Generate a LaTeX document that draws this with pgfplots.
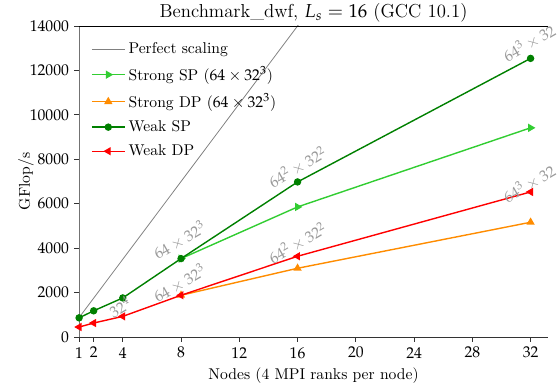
\documentclass[border=0pt]{standalone}
\usepackage{mathpazo}
\usepackage{pgfplots}
\pgfplotsset{compat=1.18}
\definecolor{cLime}{HTML}{32CD32}
\definecolor{cOrange}{HTML}{FF8C00}
\definecolor{cGreen}{HTML}{008000}
\definecolor{cRed}{HTML}{FF0000}
\definecolor{cAnn}{HTML}{999999}
\begin{document}
\begin{tikzpicture}
\begin{axis}[
  scale only axis,
  width=300pt, height=199pt,
  xmin=1, xmax=33.2, ymin=0, ymax=14000,
  xtick={1,2,4,8,12,16,20,24,28,32},
  ytick={0,2000,4000,6000,8000,10000,12000,14000},
  scaled y ticks=false,
  yticklabel style={/pgf/number format/1000 sep={}},
  axis x line=bottom, axis y line=left,
  axis line style={-},
  x axis line style={black!80},
  y axis line style={black!55},
  tick align=outside,
  major tick length=3pt,
  tick style={black!80, line width=0.5pt},
  xlabel={Nodes (4 MPI ranks per node)},
  xlabel style={at={(0.5,0)}, anchor=base, yshift=-27pt},
  title={Benchmark\_dwf, $L_s = 16$ (GCC 10.1)},
  title style={at={(0.5,1)}, anchor=base, yshift=-0.5pt, font=\large},
  clip mode=individual,
  legend style={draw=none, fill=none, at={(0.015,0.968)}, anchor=north west,
    row sep=2.9pt, font=\normalsize},
  legend cell align=left,
  legend image code/.code={\draw[mark repeat=2,mark phase=2] plot coordinates {(0cm,0cm) (0.37cm,0cm) (0.74cm,0cm)};},
]
\addplot[color=gray, line width=0.5pt, no marks] coordinates {(1,875) (32,28000)};
\addlegendentry{Perfect scaling}
\addplot[color=cLime, line width=0.9pt, mark=triangle*, mark size=2.2pt, mark options={rotate=-90}] coordinates {(8,3530) (16,5855) (32,9415)};
\addlegendentry{Strong SP ($64\times32^3$)}
\addplot[color=cOrange, line width=0.9pt, mark=triangle*, mark size=2.2pt] coordinates {(8,1880) (16,3095) (32,5165)};
\addlegendentry{Strong DP ($64\times32^3$)}
\addplot[color=cGreen, line width=0.9pt, mark=*, mark size=1.9pt] coordinates {(1,864) (2,1180) (4,1760) (8,3530) (16,6980) (32,12540)};
\addlegendentry{Weak SP}
\addplot[color=cRed, line width=0.9pt, mark=triangle*, mark size=2.2pt, mark options={rotate=90}] coordinates {(1,450) (2,630) (4,930) (8,1880) (16,3635) (32,6530)};
\addlegendentry{Weak DP}
\node[rotate=30, text=cAnn] at (axis cs:3.8,1350) {$32^4$};
\node[rotate=30, text=cAnn] at (axis cs:7.9,4355) {$64\times32^3$};
\node[rotate=30, text=cAnn] at (axis cs:7.9,2420) {$64\times32^3$};
\node[rotate=30, text=cAnn] at (axis cs:16,7640) {$64^2\times32^2$};
\node[rotate=30, text=cAnn] at (axis cs:16,4220) {$64^2\times32^2$};
\node[rotate=30, text=cAnn] at (axis cs:31.9,13230) {$64^3\times32$};
\node[rotate=30, text=cAnn] at (axis cs:31.9,6910) {$64^3\times32$};
\coordinate (bl) at (rel axis cs:0,0);
\coordinate (tr) at (rel axis cs:1,1);
\coordinate (tl) at (rel axis cs:0,1);
\coordinate (ml) at (rel axis cs:0,0.5);
\end{axis}
\draw[black, line width=0.5pt] (tl) -- (tr);
\node[rotate=90, anchor=center] at ([xshift=-34pt]ml) {GFlop/s};
\pgfresetboundingbox
\path (bl) ++(-50.6pt,-30.7pt) coordinate (BB1);
\path (tr) ++(7pt,16.6pt) coordinate (BB2);
\useasboundingbox (BB1) rectangle (BB2);
\end{tikzpicture}
\end{document}
